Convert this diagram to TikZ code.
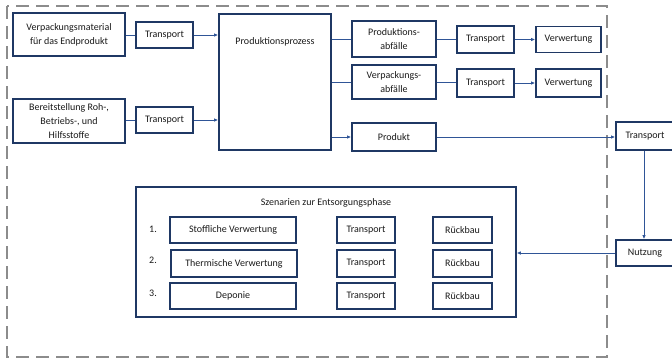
\documentclass[tikz,border=0pt]{standalone}
\usepackage{fontspec}
\setmainfont{Carlito}
\usetikzlibrary{arrows.meta}
\definecolor{boxnavy}{HTML}{1F3864}
\definecolor{linkblue}{HTML}{2F5597}
\definecolor{dashgray}{HTML}{8C8C8C}
\definecolor{txt}{HTML}{1A1A1A}
\begin{document}
\begin{tikzpicture}[x=1pt,y=-1pt,
  bx/.style={draw=boxnavy, line width=1.7pt, fill=white, inner sep=1pt, align=center,
     text=txt, font=\fontsize{10}{13.8}\selectfont},
  conn/.style={draw=linkblue, line width=0.9pt},
  arr/.style={conn, -{Latex[length=4pt,width=3.5pt]}},
  lbl/.style={text=txt, font=\fontsize{10}{13.8}\selectfont, inner sep=0pt}]
\useasboundingbox (0,0) rectangle (672,360);
% dashed system boundary
\draw[dashgray, line width=2pt, dash pattern=on 13pt off 7pt] (7,6) rectangle (607,357);

% nodes
\node[bx, minimum width=112pt, minimum height=43pt] (vm) at (69,34.5) {Verpackungsmaterial\\für das Endprodukt};
\node[bx, minimum width=57pt, minimum height=26pt] (t1) at (164.5,35) {Transport};
\node[bx, minimum width=112pt, minimum height=44pt] (bs) at (69,121) {Bereitstellung Roh-,\\Betriebs-, und\\Hilfsstoffe};
\node[bx, minimum width=57pt, minimum height=26pt] (t2) at (164.5,120) {Transport};
\node[bx, minimum width=112pt, minimum height=136pt] (pp) at (275,82) {};
\node[lbl] (pptext) at (275,42) {Produktionsprozess};

\node[bx, minimum width=84pt, minimum height=36pt] (pa) at (394,39) {Produktions-\\abfälle};
\node[bx, minimum width=84pt, minimum height=34pt] (va) at (394,82) {Verpackungs-\\abfälle};
\node[bx, minimum width=84pt, minimum height=28pt] (prod) at (394,137) {Produkt};

\node[bx, minimum width=57pt, minimum height=27pt] (ta) at (485.5,39.5) {Transport};
\node[bx, minimum width=65pt, minimum height=26pt] (wa) at (568.5,39.5) {Verwertung};
\node[bx, minimum width=57pt, minimum height=28pt] (tb) at (485.5,83) {Transport};
\node[bx, minimum width=65pt, minimum height=28pt] (wb) at (568.5,83) {Verwertung};

\node[bx, minimum width=58pt, minimum height=28pt] (tr) at (645,136) {Transport};
\node[bx, minimum width=58pt, minimum height=26pt] (nu) at (645,253) {Nutzung};

% scenarios
\node[bx, line width=1.5pt, minimum width=380pt, minimum height=130pt] (sz) at (326,252) {};
\node[lbl] (sztitle) at (326,203) {Szenarien zur Entsorgungsphase};
\node[lbl] (n1) at (153,229) {1.};
\node[lbl] (n2) at (153,260) {2.};
\node[lbl] (n3) at (153,293) {3.};
\node[bx, minimum width=126pt, minimum height=26pt] (s1) at (233,230) {Stoffliche Verwertung};
\node[bx, minimum width=126pt, minimum height=27pt] (s2) at (234,263.5) {Thermische Verwertung};
\node[bx, minimum width=126pt, minimum height=26pt] (s3) at (233,296) {Deponie};
\node[bx, minimum width=58pt, minimum height=26pt] (tr1) at (366,230) {Transport};
\node[bx, minimum width=58pt, minimum height=27pt] (tr2) at (366,263.5) {Transport};
\node[bx, minimum width=58pt, minimum height=26pt] (tr3) at (366,296) {Transport};
\node[bx, minimum width=59pt, minimum height=26pt] (rb1) at (462.5,230) {Rückbau};
\node[bx, minimum width=59pt, minimum height=27pt] (rb2) at (462.5,263.5) {Rückbau};
\node[bx, minimum width=59pt, minimum height=26pt] (rb3) at (462.5,296) {Rückbau};

% connectors
\draw[conn] (vm.east |- t1.west) -- (t1.west);
\draw[arr] (t1.east) -- (t1.east -| pp.west);
\draw[conn] (bs.east |- t2.west) -- (t2.west);
\draw[arr] (t2.east) -- (t2.east -| pp.west);
\draw[conn] (pp.east |- pa.west) -- (pa.west);
\draw[conn] (pp.east |- va.west) -- (va.west);
\draw[arr] (pp.east |- prod.west) -- (prod.west);
\draw[conn] (pa.east) -- (pa.east -| ta.west);
\draw[arr] (ta.east) -- (ta.east -| wa.west);
\draw[conn] (va.east) -- (va.east -| tb.west);
\draw[arr] (tb.east) -- (tb.east -| wb.west);
\draw[arr] (prod.east) -- (prod.east -| tr.west);
\draw[arr] ([xshift=-1pt]tr.south) -- ([xshift=-1pt]nu.north);
\draw[arr] (nu.west) -- (nu.west -| sz.east);
\end{tikzpicture}
\end{document}
